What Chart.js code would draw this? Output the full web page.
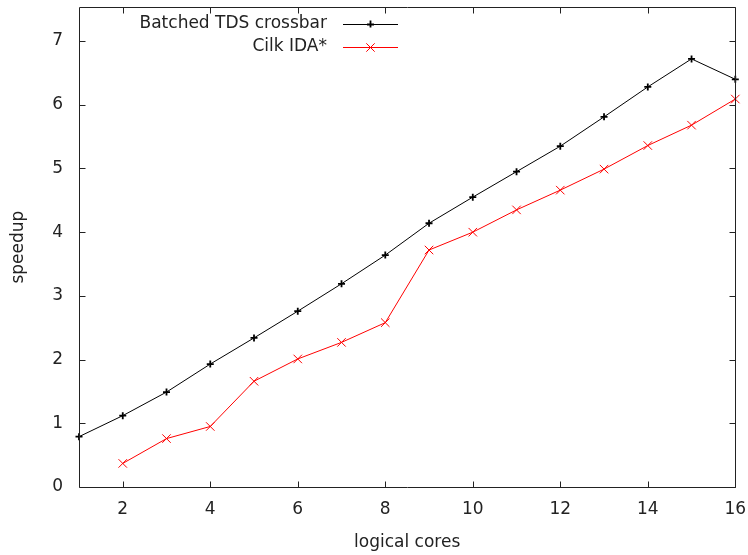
<!DOCTYPE html>
<html>
<head>
<meta charset="utf-8">
<script src="https://cdn.jsdelivr.net/npm/chart.js@4"></script>
<style>
html,body{margin:0;padding:0;background:#fff;}
#wrap{width:748px;height:555px;position:relative;}
</style>
</head>
<body>
<div id="wrap"><canvas id="c" width="748" height="555"></canvas></div>
<script>
const cores = [1,2,3,4,5,6,7,8,9,10,11,12,13,14,15,16];
const batchedTDS = [0.79,1.12,1.49,1.93,2.34,2.76,3.19,3.64,4.14,4.55,4.95,5.35,5.81,6.28,6.72,6.40];
const cilkIDA = [null,0.37,0.76,0.95,1.66,2.01,2.27,2.58,3.72,4.00,4.35,4.66,4.99,5.36,5.68,6.09];
const xTickValues = [2,4,6,8,10,12,14,16];
const yTickValues = [0,1,2,3,4,5,6,7];
const seriesLabels = ['Batched TDS crossbar','Cilk IDA*'];
const xTitle = 'logical cores';
const yTitle = 'speedup';

const FONT = 'DejaVu Sans';
const FS = 17;
const TEXT = '#222';

const toPts = arr => cores.map((c,i)=>({x:c,y:arr[i]})).filter(p=>p.y!==null);

const frame = {
  id:'frame',
  afterDatasetsDraw(chart){
    const {ctx, chartArea:a, scales:{x,y}} = chart;
    ctx.save();
    ctx.strokeStyle = '#222';
    ctx.lineWidth = 1;
    ctx.beginPath();
    const L=Math.round(a.left)+0.5, R=Math.round(a.right)+0.5, T=Math.round(a.top)+0.5, B=Math.round(a.bottom)+0.5;
    ctx.rect(L,T,R-L,B-T);
    const tl = 6;
    xTickValues.forEach(v=>{
      const px = Math.round(x.getPixelForValue(v))+0.5;
      ctx.moveTo(px,B); ctx.lineTo(px,B-tl);
      ctx.moveTo(px,T); ctx.lineTo(px,T+tl);
    });
    yTickValues.forEach(v=>{
      const py = Math.round(y.getPixelForValue(v))+0.5;
      ctx.moveTo(L,py); ctx.lineTo(L+tl,py);
      ctx.moveTo(R,py); ctx.lineTo(R-tl,py);
    });
    ctx.stroke();
    // legend (gnuplot style: text then sample)
    ctx.font = FS + 'px "' + FONT + '"';
    ctx.textAlign = 'right';
    ctx.textBaseline = 'middle';
    const rows = [24, 47];
    chart.data.datasets.forEach((ds,i)=>{
      const yy = rows[i];
      ctx.fillStyle = TEXT;
      ctx.fillText(ds.label, 327, yy);
      ctx.strokeStyle = ds.borderColor;
      ctx.lineWidth = 1;
      ctx.beginPath();
      ctx.moveTo(343, yy+0.5); ctx.lineTo(398, yy+0.5);
      ctx.stroke();
      const cx = 370.5;
      ctx.beginPath();
      if (i===0){
        const r = 3.5;
        ctx.lineWidth = 1.8;
        ctx.moveTo(cx-r,yy+0.5); ctx.lineTo(cx+r,yy+0.5);
        ctx.moveTo(cx,yy-r); ctx.lineTo(cx,yy+r);
      } else {
        const r = 4.2;
        ctx.moveTo(cx-r,yy-r+0.5); ctx.lineTo(cx+r,yy+r+0.5);
        ctx.moveTo(cx-r,yy+r+0.5); ctx.lineTo(cx+r,yy-r+0.5);
      }
      ctx.stroke();
    });
    ctx.restore();
  }
};

new Chart(document.getElementById('c'), {
  type:'line',
  data:{
    datasets:[
      {label:seriesLabels[0], data:toPts(batchedTDS), borderColor:'#000', backgroundColor:'#000',
       borderWidth:1, pointStyle:'cross', pointRadius:3.5, pointBorderWidth:1.8, tension:0, clip:false},
      {label:seriesLabels[1], data:toPts(cilkIDA), borderColor:'#ff0000', backgroundColor:'#ff0000',
       borderWidth:1, pointStyle:'crossRot', pointRadius:6, pointBorderWidth:1, tension:0, clip:false}
    ]
  },
  options:{
    responsive:false,
    animation:false,
    layout:{padding:{left:8,right:12.7,top:7.3,bottom:2}},
    plugins:{legend:{display:false}, tooltip:{enabled:false}},
    scales:{
      x:{
        type:'linear', min:1, max:16,
        afterBuildTicks(s){ s.ticks = xTickValues.map(v=>({value:v})); },
        afterFit(s){ s.height = 555-487-2; s.paddingLeft = 0; s.paddingRight = 0; },
        grid:{display:false, drawTicks:false},
        border:{display:false},
        ticks:{color:TEXT, font:{family:FONT,size:FS}, padding:12, maxRotation:0, autoSkip:false},
        title:{display:true, text:xTitle, color:TEXT, font:{family:FONT,size:FS}, padding:{top:13,bottom:0}}
      },
      y:{
        type:'linear', min:0, max:7.53,
        afterBuildTicks(s){ s.ticks = yTickValues.map(v=>({value:v})); },
        afterFit(s){ s.width = 79-8; s.paddingTop = 0; s.paddingBottom = 0; },
        grid:{display:false, drawTicks:false},
        border:{display:false},
        ticks:{color:TEXT, font:{family:FONT,size:FS}, padding:16},
        title:{display:true, text:yTitle, color:TEXT, font:{family:FONT,size:FS}, padding:{top:0,bottom:0}}
      }
    }
  },
  plugins:[frame]
});
</script>
</body>
</html>
